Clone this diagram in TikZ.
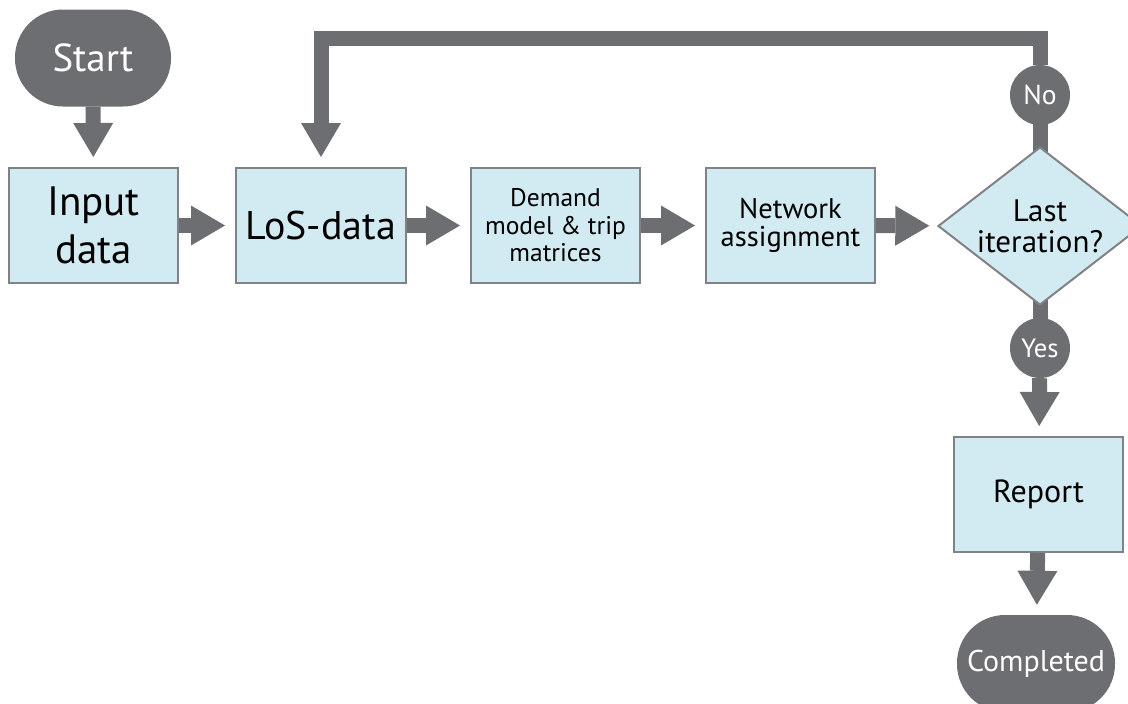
\documentclass[tikz,border=0pt]{standalone}
\usepackage{fontspec}
\setmainfont{PT Sans}
\usetikzlibrary{shapes.geometric,arrows.meta}
\definecolor{flowgray}{HTML}{6D6E71}
\definecolor{boxfill}{HTML}{D2EAF1}
\definecolor{boxline}{HTML}{808285}
\pgfdeclarelayer{background}
\pgfsetlayers{background,main}
\tikzset{
  procbox/.style={draw=boxline, line width=2pt, fill=boxfill, minimum width=169pt,
    minimum height=115pt, inner sep=0pt, align=center, text=black},
  terminal/.style={fill=flowgray, rounded corners=48pt, minimum width=156pt,
    minimum height=97pt, inner sep=0pt, text=white},
  answer/.style={circle, fill=flowgray, minimum size=60pt, inner sep=0pt,
    text=white},
  decision/.style={diamond, draw=boxline, line width=2pt, fill=boxfill,
    shape aspect=1.29, minimum width=204pt, minimum height=158pt, inner sep=0pt,
    align=center},
  flow/.style={draw=flowgray, line width=15pt, line join=miter,
    -{Triangle[length=34pt, width=40pt, line width=0pt]}, shorten >=10pt},
  bar/.style={draw=flowgray, line width=15pt, line join=miter}
}
\begin{document}
\begin{tikzpicture}[x=1pt, y=-1pt]
  \useasboundingbox (0,0) rectangle (1128,704);

  % nodes
  \node[terminal, font=\fontsize{39}{39}\selectfont] (start) at (93,58) {Start};
  \node[procbox, font=\fontsize{41}{48}\selectfont] (input) at (93.5,225.5) {Input\\data};
  \node[procbox, minimum width=170pt, font=\fontsize{40}{40}\selectfont] (los) at (321,225.5) {LoS-data};
  \node[procbox, font=\fontsize{25.5}{27.5}\selectfont] (demand) at (555.5,225.5) {Demand\\model \& trip\\matrices};
  \node[procbox, font=\fontsize{28.5}{28.5}\selectfont] (network) at (790.5,225.5) {Network\\assignment};
  \node[decision, font=\fontsize{31}{31}\selectfont] (last) at (1040,226) {Last\\iteration?};
  \node[answer, font=\fontsize{27.5}{27.5}\selectfont] (no) at (1040,95) {No};
  \node[answer, font=\fontsize{26.5}{26.5}\selectfont] (yes) at (1040,348) {Yes};
  \node[procbox, font=\fontsize{32}{32}\selectfont] (report) at (1038.5,494.5) {Report};
  \node[terminal, minimum width=158pt, font=\fontsize{30}{30}\selectfont] (done) at (1036,663.5) {Completed};

  \coordinate (topright) at (1040,38);

  % straight links from the decision to its answers, kept behind the shapes
  \begin{pgfonlayer}{background}
    \draw[bar] (last.center) -- (no.center);
    \draw[bar] (last.center) -- (yes.center);
  \end{pgfonlayer}

  % connectors
  \draw[flow] (start) -- (input);
  \draw[flow] (input) -- (los);
  \draw[flow] (los) -- (demand);
  \draw[flow] (demand) -- (network);
  \draw[flow, shorten >=8pt] (network) -- (last);
  \draw[flow] (no.north) -- (topright) -| (los.north);
  \draw[flow] (yes) -- (report);
  \draw[flow] (report) -- (done);
\end{tikzpicture}
\end{document}
